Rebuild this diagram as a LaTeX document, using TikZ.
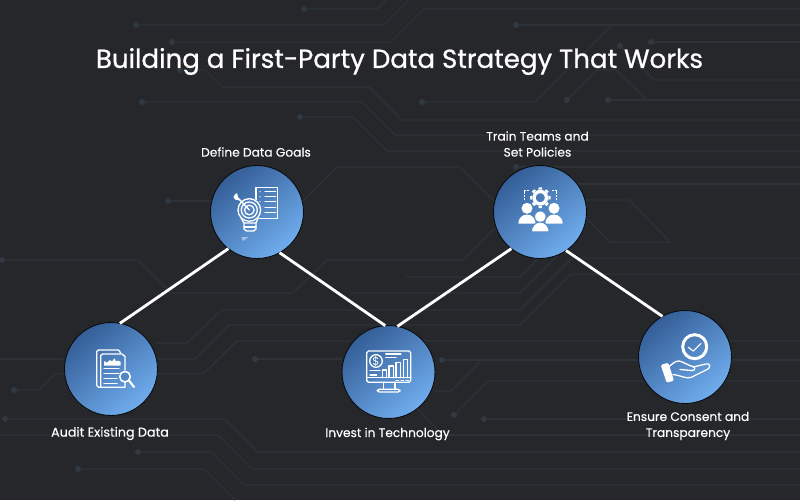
\documentclass[tikz,border=0pt]{standalone}
\usepackage{fontspec}
\setmainfont{Poppins}
\newfontfamily\titlefont[FakeBold=0.8]{Poppins}
\newfontfamily\labelfont[FakeBold=0.2]{Poppins}
\definecolor{boardbg}{HTML}{25272A}
\definecolor{tracecol}{HTML}{2C3238}
\definecolor{padcol}{HTML}{303842}
\definecolor{discdark}{HTML}{345E97}
\definecolor{disclight}{HTML}{70ADEE}
\tikzset{
  trace/.style={draw=tracecol,line width=0.75pt},
  pad/.style={fill=padcol},
  disc/.style={circle,minimum size=1.86cm,inner sep=0pt,outer sep=0pt,draw=black!70!boardbg,line width=0.5pt,
    shading=axis,top color=discdark,bottom color=disclight,shading angle=40},
  link/.style={draw=white,line width=1.6pt},
  caption/.style={text=white,align=center,font=\labelfont\fontsize{6.95}{9.1}\selectfont,inner sep=0pt},
  icon/.style={draw=white,line width=0.75pt,line join=round,line cap=round},
  iconthin/.style={draw=white,line width=0.65pt,line cap=round},
  iconfill/.style={fill=white,draw=none}
}
\begin{document}
\begin{tikzpicture}[x=0.02cm,y=-0.02cm]

  \fill[boardbg] (0,0) rectangle (800,500);
  \useasboundingbox (0,0) rectangle (800,500);

  % circuit traces
  \begin{scope}
    \clip (0,0) rectangle (800,500);
    \draw[trace] (304,9) -- (377,9) -- (387,-1);
    \draw[trace] (136,25) -- (384,25) -- (410,-1);
    \draw[trace] (172,42) -- (391,42) -- (424,9) -- (801,9);
    \draw[trace] (180,70) -- (205,70) -- (222,87) -- (369,87) -- (402,120) -- (801,120);
    \draw[trace] (142,102) -- (362,102) -- (395,135) -- (801,135);
    \draw[trace] (300,117) -- (353,117) -- (387,151) -- (801,151);
    \draw[trace] (168,201) -- (230,201);
    \draw[trace] (290,214) -- (337,167) -- (460,167) -- (535,242);
    \draw[trace] (516,25) -- (801,25);
    \draw[trace] (651,42) -- (801,42);
    \draw[trace] (620,46) -- (654,80) -- (801,80);
    \draw[trace] (567,100) -- (597,70) -- (616,70) -- (647,100);
    \draw[trace] (608,100) -- (801,100);
    \draw[trace] (422,102) -- (535,102) -- (611,26);
    \draw[trace] (516,167) -- (801,167);
    \draw[trace] (560,184) -- (801,184);
    \draw[trace] (560,200) -- (629,200) -- (670,242);
    \draw[trace] (570,202) -- (610,242) -- (670,242);
    \draw[trace] (2,260) -- (138,260) -- (171,293) -- (293,293) -- (327,260) -- (463,260) -- (500,223);
    \draw[trace] (405,277) -- (520,277) -- (548,249);
    \draw[trace] (350,293) -- (520,293) -- (557,256);
    \draw[trace] (155,343) -- (187,343) -- (221,310) -- (520,310) -- (572,258) -- (801,258);
    \draw[trace] (157,359) -- (195,359) -- (229,325) -- (520,325) -- (571,274) -- (801,274);
    \draw[trace] (157,374) -- (203,374) -- (237,341) -- (801,341);
    \draw[trace] (0,359) -- (63,359);
    \draw[trace] (14,390) -- (39,390) -- (55,374) -- (64,374);
    \draw[trace] (5,419) -- (225,419) -- (258,452) -- (801,452);
    \draw[trace] (-1,435) -- (218,435) -- (252,469) -- (801,469);
    \draw[trace] (138,452) -- (211,452) -- (244,485) -- (801,485);
    \draw[trace] (78,469) -- (204,469) -- (235,500);
    \draw[trace] (255,359) -- (342,359);
    \draw[trace] (442,360) -- (801,360);
    \draw[trace] (433,391) -- (451,391) -- (480,362);
    \draw[trace] (454,415) -- (488,381) -- (801,381);
    \draw[trace] (484,419) -- (801,419);
    \draw[trace] (418,409) -- (438,430);
    \draw[trace] (438,435) -- (801,435);
    \foreach \px/\py in {304/9,136/25,172/42,180/70,142/102,300/117,168/201,516/25,651/42,620/46,567/100,608/100,
      422/102,516/167,2/260,14/390,5/419,138/452,78/469,255/359,442/360,454/415,484/419}
      \fill[pad] (\px,\py) circle (3);
  \end{scope}

  \begin{scope}[every node/.style={disc}]
    \node (define)  at (257,212)   {};
    \node (train)   at (540,212)   {};
    \node (audit)   at (111,369)   {};
    \node (invest)  at (388.5,372) {};
    \node (ensure)  at (685,357)   {};
  \end{scope}

  \begin{scope}[every edge/.style={link}]
    \path (audit.79)    edge (define.232);
    \path (define.299)  edge (invest.94);
    \path (invest.79)   edge (train.232);
    \path (train.304)   edge (ensure.119);
  \end{scope}

  \node[text=white,inner sep=0pt,font=\titlefont\fontsize{14.85}{18}\selectfont] (title) at (399.5,61.5)
    {Building a First-Party Data Strategy That Works};

  \begin{scope}[every node/.style={caption}]
    \node (definetext) at (256,152)     {Define Data Goals};
    \node (traintext)  at (537.5,144)   {Train Teams and\\Set Policies};
    \node[font=\labelfont\fontsize{7.25}{9.1}\selectfont] (audittext) at (110,433.5) {Audit Existing Data};
    \node (investtext) at (387.5,434)   {Invest in Technology};
    \node (ensuretext) at (688,426)     {Ensure Consent and\\Transparency};
  \end{scope}

  % goals icon
  \draw[icon] (256,187.7) rectangle (277.7,218.7);
  \foreach \ly in {191.7,196.7,201.7,207.3,212.7}
    \draw[iconthin] (265,\ly) -- (275.7,\ly);
  \foreach \ly in {191.7,196.7,201.7}
    \fill[white] (260,\ly) circle (0.7);
  \path[fill=discdark!55!disclight] (249.3,210) circle (12.3);
  \draw[icon] (249.3,210) circle (11.3);
  \draw[icon] (249.3,210) circle (8);
  \draw[icon] (249.3,210) circle (4.8);
  \draw[icon] (241,218) -- (244,223) -- (256,223) -- (258,218);
  \draw[icon] (244,223) -- (244,229) -- (246.5,231) -- (253.5,231) -- (256,229) -- (256,223);
  \draw[iconthin] (244,227) -- (256,227);
  \draw[icon] (249.3,210) -- (238,198);
  \fill[white] (238.5,198.5) -- (237,193) -- (234.5,195) -- (233.5,197) -- (235,199.5) -- (240,200.5) -- cycle;
  \fill[white,opacity=0.45] (241.5,237) -- (248.5,237) -- (243,241) -- cycle;

  % teams icon
  \draw[draw=white,line width=0.4pt,dash pattern=on 1pt off 0.7pt] (524.3,200) -- (524.3,190.7) -- (529.3,190.7);
  \draw[draw=white,line width=0.4pt,dash pattern=on 1pt off 0.7pt] (556.7,200) -- (556.7,190.7) -- (551.7,190.7);
  \foreach \ang in {0,45,...,315}
    \fill[white,shift={(540.3,197.7)},rotate=\ang] (-2,-8) -- (-1.5,-10.3) -- (1.5,-10.3) -- (2,-8) -- cycle;
  \draw[white,line width=1.9pt] (540.3,197.7) circle (6.2);
  \fill[iconfill] (527,208.3) circle (5.5);
  \fill[iconfill] (554,208.3) circle (5.5);
  \fill[iconfill] (518.3,223.5) arc[start angle=180,end angle=360,x radius=8.7,y radius=9] -- cycle;
  \fill[iconfill] (545.3,223.5) arc[start angle=180,end angle=360,x radius=8.7,y radius=9] -- cycle;
  \path[fill=white,draw=discdark!45!disclight,line width=0.6pt] (540.3,216.7) circle (5.8);
  \path[fill=white,draw=discdark!45!disclight,line width=0.6pt] (531.3,232) arc[start angle=180,end angle=360,x radius=9,y radius=10] -- cycle;

  % audit icon
  \draw[icon] (100,387.3) -- (98.5,387.3) -- (96.7,385.5) -- (96.7,351.5) -- (98.5,350) -- (118.5,350) -- (120.7,353);
  \draw[icon] (102.5,354) -- (122,354) -- (125,356.5) -- (125,370);
  \draw[icon] (125,382) -- (125,387.3) -- (100.7,387.3) -- (100.7,355.5) -- (102.5,354);
  \fill[white] (104,365.5) -- (104,361) -- (107,362.5) -- (110,360) -- (112,361.5) -- (114.5,358.3) -- (116,361.5) -- (118,360.5) -- (120.7,362) -- (120.7,365.5) -- cycle;
  \draw[iconthin] (104,368.7) -- (119,368.7);
  \draw[iconthin] (104,373.7) -- (119,373.7);
  \draw[iconthin] (104,378.7) -- (117,378.7);
  \draw[iconthin] (104,383.5) -- (117,383.5);
  \path[fill=discdark!50!disclight,draw=white,line width=0.9pt] (125,376.7) circle (5.3);
  \draw[white,line width=1.2pt,line cap=round] (129,380.5) -- (134,387);

  % technology icon
  \draw[icon,rounded corners=1pt] (366.7,351) rectangle (410.7,382.3);
  \draw[icon] (366.7,377.7) -- (410.7,377.7);
  \draw[icon] (376,361) circle (6.3);
  \node[text=white,inner sep=0pt,font=\fontsize{6.5}{7}\selectfont] (dollar) at (376,361) {\$};
  \draw[iconthin] (385.7,354) -- (401,354);
  \draw[iconthin] (385.7,357.7) -- (396,357.7);
  \draw[iconthin] (370,370.7) -- (380,370.7);
  \draw[iconthin] (370,375) -- (376.7,375);
  \foreach \bx/\by in {382.3/370,389/366,396/362.7,403.3/359.3}
    \draw[icon] (\bx,377.7) -- (\bx,\by) -- ({\bx+4.4},\by) -- ({\bx+4.4},377.7);
  \foreach \dx in {396,401,406}
    \draw[iconthin] (\dx,380.3) -- ({\dx+2.5},380.3);
  \draw[icon] (383.3,382.3) -- (383.3,389.3);
  \draw[icon] (395,382.3) -- (395,389.3);
  \draw[icon,rounded corners=1pt] (377.3,389.3) rectangle (400,392);

  % consent icon
  \draw[white,line width=1.7pt] (694.7,346.7) circle (12);
  \draw[iconthin] (688.3,347.3) -- (693.3,351) -- (701,343.3);
  \fill[white,rounded corners=0.8pt] (660.7,365) -- (668.3,362.7) -- (674,380.7) -- (666.7,382.7) -- cycle;
  \draw[icon] (669,366.5) .. controls (673,363.5) and (675,361) .. (679,361)
    .. controls (684,362) and (689,366) .. (693,366.5)
    .. controls (696,367) and (695,371) .. (692,370.5) -- (680,369.5);
  \draw[icon] (693,367) -- (706,364) .. controls (710,363) and (711,367) .. (708,369)
    -- (691,377.5) .. controls (685,379) and (680,375) .. (673,374.5);

\end{tikzpicture}
\end{document}
